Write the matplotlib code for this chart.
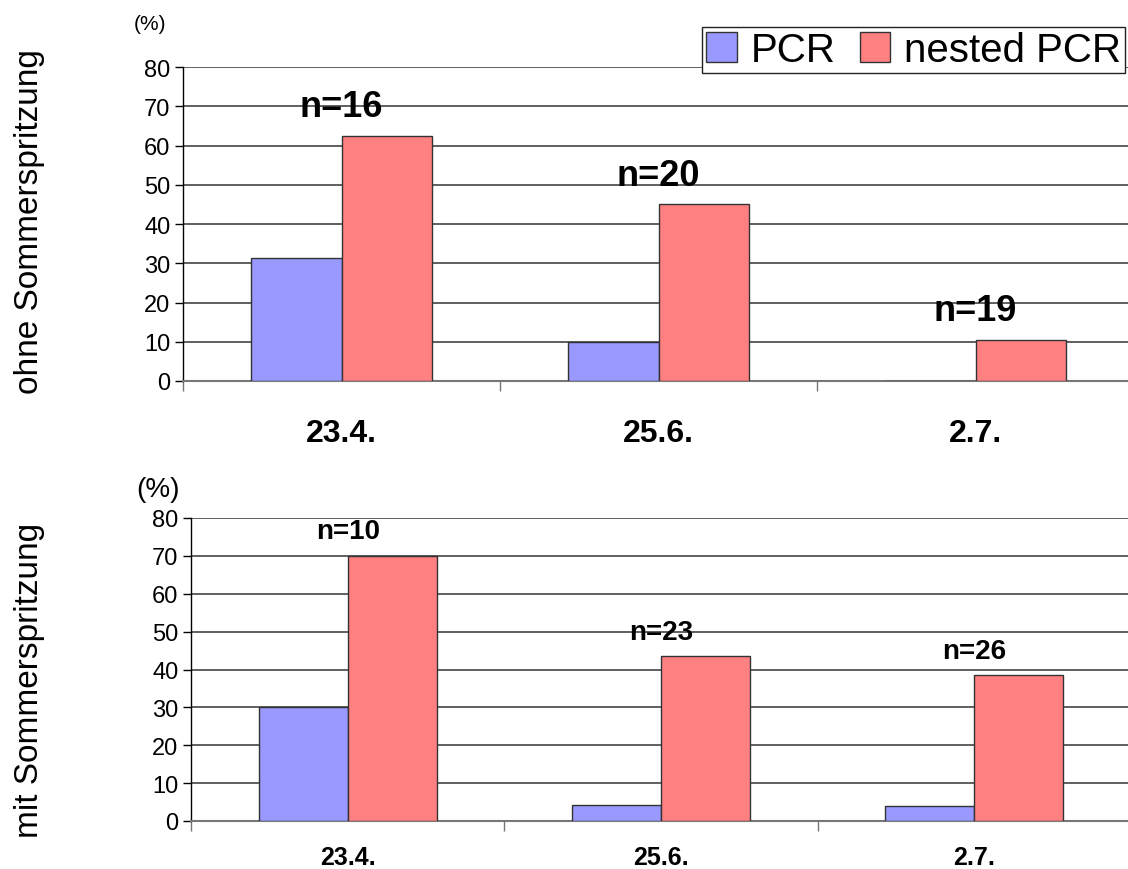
import numpy as np
import matplotlib
matplotlib.use('Agg')
from matplotlib import pyplot as plt

plt.rcParams['font.family'] = ['Liberation Sans', 'DejaVu Sans']

dates = ['23.4.', '25.6.', '2.7.']
series = ['PCR', 'nested PCR']
colors = ['#9999FF', '#FF8080']

# ohne Sommerspritzung (%)
pcr_ohne = [31.25, 10.0, 0.0]
nested_ohne = [62.5, 45.0, 10.53]
n_ohne = [16, 20, 19]

# mit Sommerspritzung (%)
pcr_mit = [30.0, 4.35, 3.85]
nested_mit = [70.0, 43.48, 38.46]
n_mit = [10, 23, 26]

W, H = 1128, 870
fig = plt.figure(figsize=(W / 100, H / 100), dpi=100)


def panel(rect, pcr, nested, ns, nsize, n_off, xsize, xpad):
    ax = fig.add_axes(rect)
    x = np.arange(len(dates))
    bw = 0.284
    ax.bar(x - bw / 2, pcr, bw, color=colors[0], edgecolor='#333333', linewidth=1, zorder=3, label=series[0])
    ax.bar(x + bw / 2, nested, bw, color=colors[1], edgecolor='#333333', linewidth=1, zorder=3, label=series[1])
    for xi, v, n in zip(x, nested, ns):
        ax.text(xi, v + n_off, f'n={n}', ha='center', va='center', fontsize=nsize, fontweight='bold', zorder=4)
    ax.set_xlim(-0.5, 2.5)
    ax.set_ylim(0, 80)
    ax.set_yticks(range(0, 81, 10))
    ax.yaxis.grid(True, color='#444444', linewidth=1.2, zorder=0)
    ax.tick_params(axis='y', labelsize=17, length=6, width=1, pad=3)
    ax.set_xticks(x)
    ax.set_xticklabels(dates, fontsize=xsize, fontweight='bold')
    ax.tick_params(axis='x', which='major', length=0, pad=xpad)
    ax.set_xticks([-0.5, 0.5, 1.5, 2.5], minor=True)
    ax.tick_params(axis='x', which='minor', length=7, width=1, color='#777777')
    for s in ['top', 'right']:
        ax.spines[s].set_visible(False)
    ax.spines['bottom'].set_color('#777777')
    ax.spines['bottom'].set_linewidth(1.5)
    ax.spines['left'].set_linewidth(1)
    return ax


ax1 = panel([183 / W, 1 - 382 / H, 951 / W, 314 / H], pcr_ohne, nested_ohne, n_ohne, 26, 7.4, 23, 27)
ax2 = panel([191 / W, 1 - 822 / H, 940 / W, 303 / H], pcr_mit, nested_mit, n_mit, 20, 6.5, 18, 17)

fig.text(30 / W, 1 - 222 / H, 'ohne Sommerspritzung', rotation=90, ha='center', va='center', fontsize=24)
fig.text(30 / W, 1 - 680 / H, 'mit Sommerspritzung', rotation=90, ha='center', va='center', fontsize=24)
fig.text(150 / W, 1 - 25 / H, '(%)', ha='center', va='center', fontsize=15)
fig.text(158 / W, 1 - 490 / H, '(%)', ha='center', va='center', fontsize=20)

h, l = ax1.get_legend_handles_labels()
leg = fig.legend(h, l, loc='upper right', bbox_to_anchor=(1125 / W, 1 - 28 / H), ncol=2,
                 fontsize=29, frameon=True, fancybox=False, shadow=False, framealpha=1,
                 handlelength=0.75, handleheight=0.75, handletextpad=0.35, columnspacing=0.6,
                 borderpad=0.1, borderaxespad=0)
leg.get_frame().set_edgecolor('#222222')
leg.get_frame().set_linewidth(1)

fig.savefig('out.png', dpi=100)
